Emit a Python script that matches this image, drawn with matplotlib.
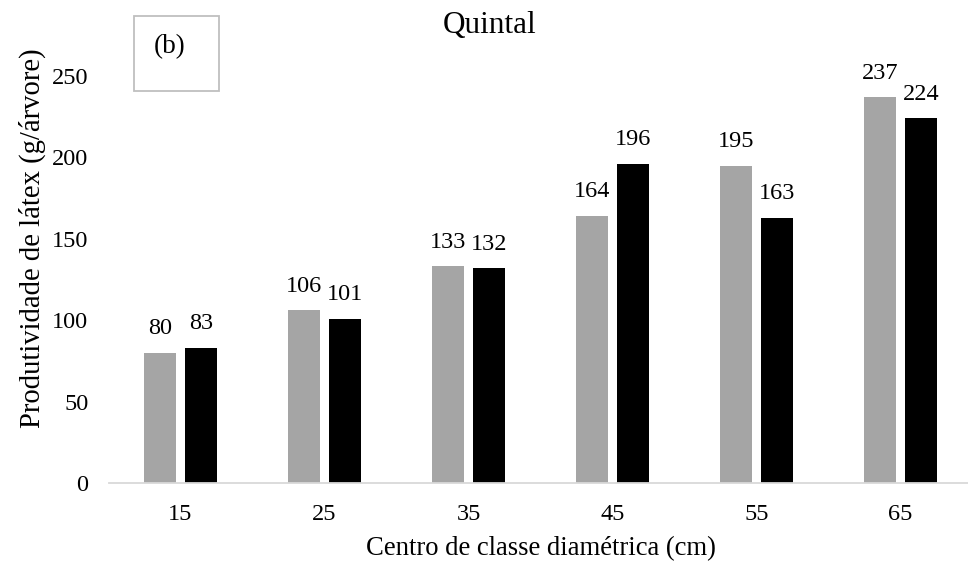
import matplotlib
matplotlib.use("Agg")
import matplotlib.pyplot as plt
from matplotlib.patches import Rectangle
import numpy as np

categories = ["15", "25", "35", "45", "55", "65"]
series_a = [80, 106, 133, 164, 195, 237]   # grey
series_b = [83, 101, 132, 196, 163, 224]   # black
yticks = [0, 50, 100, 150, 200, 250]

plt.rcParams['font.family'] = ['Liberation Serif', 'DejaVu Serif']

W, H = 968, 566
fig = plt.figure(figsize=(W / 100, H / 100), dpi=100)

ax_left, ax_right = 108.5, 968
ax_bottom_px, ax_top_px = 483, 43.4
ax = fig.add_axes([ax_left / W, 1 - ax_bottom_px / H,
                   (ax_right - ax_left) / W, (ax_bottom_px - ax_top_px) / H])

x = np.arange(len(categories))
bw = 0.222
off = 0.1435
bars_a = ax.bar(x - off, series_a, width=bw, color="#A5A5A5", zorder=2)
bars_b = ax.bar(x + off, series_b, width=bw, color="#000000", zorder=2)

fs = 17.5
for bars, vals in ((bars_a, series_a), (bars_b, series_b)):
    for b, v in zip(bars, vals):
        ax.annotate(str(v), (b.get_x() + b.get_width() / 2, v),
                    xytext=(0, 17.3), textcoords="offset points",
                    ha="center", va="center", fontsize=fs, color="#000000")

ax.set_xlim(-0.5, -0.5 + (ax_right - ax_left) / 144.0)
ax.set_ylim(0, 270)
ax.set_xticks(x)
ax.set_xticklabels(categories)
ax.set_yticks(yticks)
ax.set_yticklabels([str(t) for t in yticks])
ax.tick_params(axis="both", length=0, labelsize=fs, colors="#000000")
ax.tick_params(axis="x", pad=15)
ax.tick_params(axis="y", pad=14.5)
for s in ("top", "right", "left"):
    ax.spines[s].set_visible(False)
ax.spines["bottom"].set_color("#D9D9D9")
ax.spines["bottom"].set_linewidth(1.3)

fig.text(490 / W, 1 - 25 / H, "Quintal", ha="center", va="center", fontsize=22.5)
fig.text(541 / W, 1 - 549 / H, "Centro de classe diamétrica (cm)",
         ha="center", va="center", fontsize=19.2)
fig.text(32 / W, 1 - 238 / H, "Produtividade de látex (g/árvore)",
         ha="center", va="center", rotation=90, fontsize=20.6)

fig.patches.append(Rectangle((134 / W, 1 - 91 / H), 85 / W, 75 / H,
                             transform=fig.transFigure, fill=False,
                             edgecolor="#BFBFBF", linewidth=1.3))
fig.text(170 / W, 1 - 47 / H, "(b)", ha="center", va="center", fontsize=19.5)

fig.savefig("out.png", dpi=100)
